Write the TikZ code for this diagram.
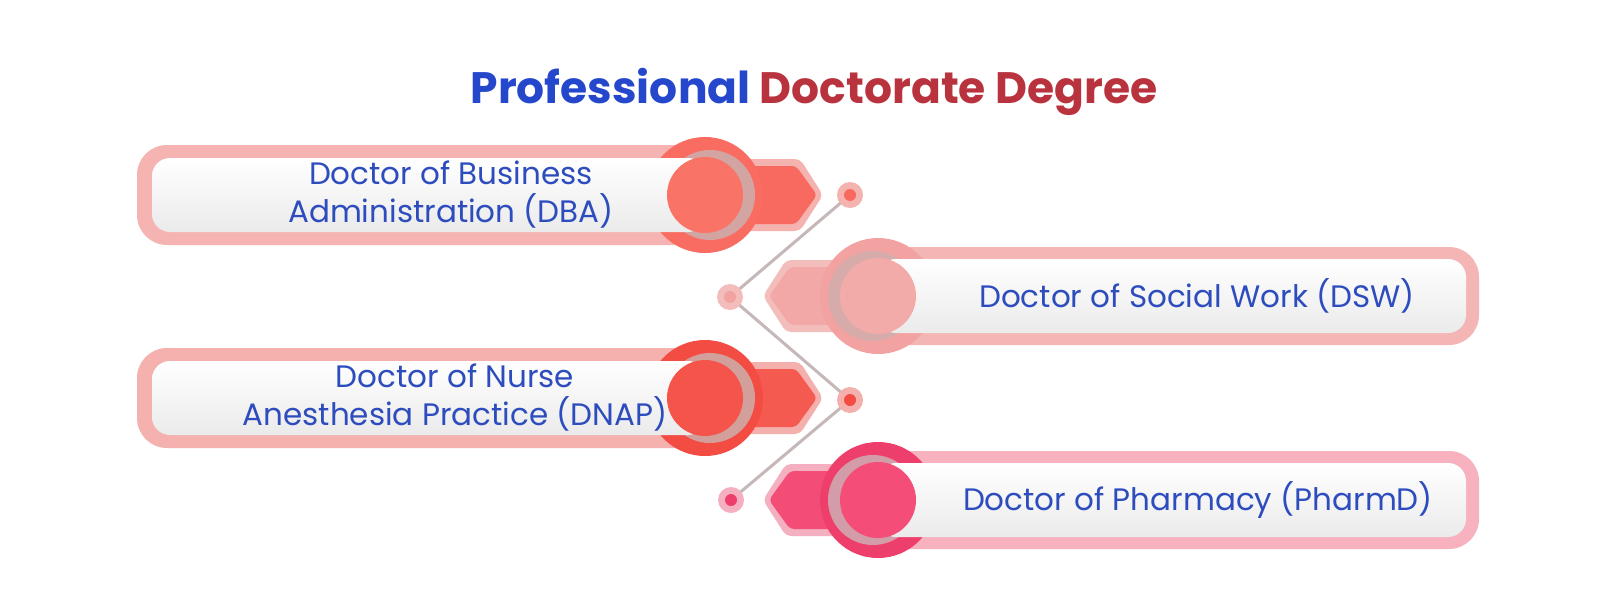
\documentclass[tikz,border=0pt]{standalone}
\usepackage{fontspec}
\setmainfont{Poppins}
\definecolor{titleblue}{HTML}{2447CC}
\definecolor{titlered}{HTML}{B9333F}
\definecolor{labelblue}{HTML}{2D4CBD}
\definecolor{connc}{HTML}{C6B8B8}
% DBA
\definecolor{aPale}{HTML}{F5B4B1}\definecolor{aRing}{HTML}{F86C62}\definecolor{aIn}{HTML}{FA7367}
\definecolor{aTab}{HTML}{F8695F}\definecolor{aTabB}{HTML}{F4B3AF}\definecolor{aGrey}{HTML}{D3A5A2}
% DSW
\definecolor{bPale}{HTML}{F4B6B4}\definecolor{bRing}{HTML}{F2A3A1}\definecolor{bIn}{HTML}{F2ABA9}
\definecolor{bTab}{HTML}{F2A8A6}\definecolor{bTabB}{HTML}{F3BDBB}\definecolor{bGrey}{HTML}{D6ACAB}
% DNAP
\definecolor{cPale}{HTML}{F4B1AE}\definecolor{cRing}{HTML}{F24C43}\definecolor{cIn}{HTML}{F5544A}
\definecolor{cTab}{HTML}{F55A50}\definecolor{cTabB}{HTML}{F3B0AC}\definecolor{cGrey}{HTML}{D29F9B}
% PharmD
\definecolor{dPale}{HTML}{F7B1BF}\definecolor{dRing}{HTML}{EE3F6C}\definecolor{dIn}{HTML}{F44D78}
\definecolor{dTab}{HTML}{F34C77}\definecolor{dTabB}{HTML}{F4AFC0}\definecolor{dGrey}{HTML}{D29CA9}
\tikzset{
  whitebar/.style={top color=white, bottom color=black!8, rounded corners=18pt},
  innerdisc/.style={circle, inner sep=0pt, minimum size=76pt},
  label/.style={align=center, text=labelblue, font=\fontsize{31}{38}\selectfont},
  conn/.style={draw=connc, line width=3pt},
  dotpale/.style={circle, inner sep=0pt, minimum size=26pt},
  dotin/.style={circle, inner sep=0pt, minimum size=12pt},
}
\newcommand\LeftRow[8]{%
  \fill[#2, rounded corners=30pt] (137,#1-50) rectangle (730,#1+50);
  \fill[#6, rounded corners=5pt] (720,#1-36) -- (800,#1-36) -- (823,#1) -- (800,#1+36) -- (720,#1+36) -- cycle;
  \fill[#5, rounded corners=4pt] (720,#1-29) -- (796,#1-29) -- (817,#1) -- (796,#1+29) -- (720,#1+29) -- cycle;
  \fill[#3] (705,#1) circle[radius=58];
  \fill[#7] (710,#1) circle[radius=45];
  \shade[whitebar] (152,#1-37) rectangle (706,#1+37);
  \node[innerdisc, fill=#4] (#8) at (705,#1) {};
}
\newcommand\RightRow[8]{%
  \fill[#2, rounded corners=30pt] (850,#1-49) rectangle (1479,#1+49);
  \fill[#6, rounded corners=5pt] (890,#1-36) -- (786,#1-36) -- (763,#1) -- (786,#1+36) -- (890,#1+36) -- cycle;
  \fill[#5, rounded corners=4pt] (890,#1-29) -- (790,#1-29) -- (769,#1) -- (790,#1+29) -- (890,#1+29) -- cycle;
  \fill[#3] (878,#1) circle[radius=58];
  \fill[#7] (873,#1) circle[radius=45];
  \shade[whitebar] (878,#1-37) rectangle (1466,#1+37);
  \node[innerdisc, fill=#4] (#8) at (878,#1) {};
}
\begin{document}
\begin{tikzpicture}[x=1pt,y=-1pt]
\useasboundingbox (0,0) rectangle (1600,608);
\fill[white] (0,0) rectangle (1600,608);

\node[anchor=base, font=\fontsize{44}{54}\selectfont\bfseries] (title) at (814,103)
  {\textcolor{titleblue}{Professional} \textcolor{titlered}{Doctorate Degree}};

\LeftRow{195}{aPale}{aRing}{aIn}{aTab}{aTabB}{aGrey}{cA}
\RightRow{296}{bPale}{bRing}{bIn}{bTab}{bTabB}{bGrey}{cB}
\LeftRow{398}{cPale}{cRing}{cIn}{cTab}{cTabB}{cGrey}{cC}
\RightRow{500}{dPale}{dRing}{dIn}{dTab}{dTabB}{dGrey}{cD}

\node[label] (tA) at (451,195) {Doctor of Business\\Administration (DBA)};
\node[label] (tB) at (1197,296) {Doctor of Social Work (DSW)};
\node[label] (tC) at (455,398) {Doctor of Nurse\\Anesthesia Practice (DNAP)};
\node[label] (tD) at (1198,500) {Doctor of Pharmacy (PharmD)};

\coordinate (p1) at (850,195);
\coordinate (p2) at (730,297);
\coordinate (p3) at (850,400);
\coordinate (p4) at (731,500);
\draw[conn] (p1) -- (p2) -- (p3) -- (p4);

\node[dotpale, fill=aTabB] (o1) at (p1) {};
\node[dotin, fill=aTab] (i1) at (p1) {};
\node[dotpale, fill=bTabB] (o2) at (p2) {};
\node[dotin, fill=bRing] (i2) at (p2) {};
\node[dotpale, fill=cTabB] (o3) at (p3) {};
\node[dotin, fill=cRing] (i3) at (p3) {};
\node[dotpale, fill=dTabB] (o4) at (p4) {};
\node[dotin, fill=dRing] (i4) at (p4) {};
\end{tikzpicture}
\end{document}
